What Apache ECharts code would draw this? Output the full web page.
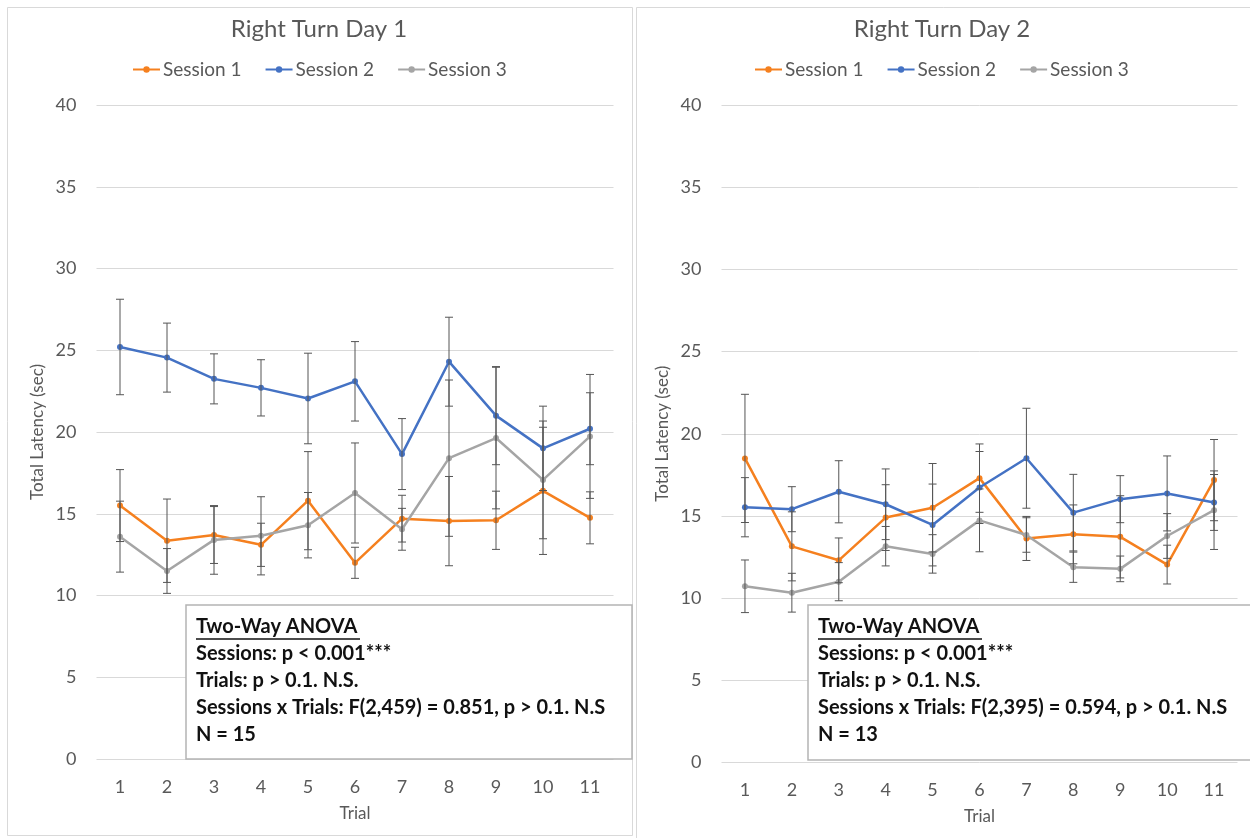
<!DOCTYPE html>
<html>
<head>
<meta charset="utf-8">
<script src="https://cdn.jsdelivr.net/npm/echarts@6/dist/echarts.min.js"></script>
<style>
html, body { margin: 0; padding: 0; background: #fff; }
#main { width: 1250px; height: 838px; }
</style>
</head>
<body>
<div id="main"></div>
<script>
// trial numbers on the x axis
const trials = ['1', '2', '3', '4', '5', '6', '7', '8', '9', '10', '11'];
const yTicks = [0, 5, 10, 15, 20, 25, 30, 35, 40];

// Right Turn Day 1 (mean, error)
const day1Session1 = [15.5, 13.35, 13.7, 13.1, 15.8, 12.0, 14.7, 14.55, 14.6, 16.4, 14.75];
const day1Session1Err = [2.2, 2.55, 1.74, 1.32, 3.0, 0.95, 1.43, 2.73, 1.78, 3.89, 1.59];
const day1Session2 = [25.2, 24.55, 23.25, 22.7, 22.05, 23.1, 18.65, 24.3, 21.0, 19.0, 20.2];
const day1Session2Err = [2.92, 2.11, 1.53, 1.72, 2.77, 2.43, 2.17, 2.72, 3.0, 2.58, 2.2];
const day1Session3 = [13.6, 11.5, 13.4, 13.65, 14.3, 16.27, 14.05, 18.4, 19.63, 17.07, 19.73];
const day1Session3Err = [2.17, 1.37, 2.1, 2.39, 2.0, 3.06, 1.28, 4.78, 4.33, 3.6, 3.79];

// Right Turn Day 2 (mean, error)
const day2Session1 = [18.5, 13.15, 12.3, 14.9, 15.5, 17.3, 13.63, 13.88, 13.73, 12.04, 17.18];
const day2Session1Err = [3.9, 2.1, 1.36, 2.0, 2.69, 2.08, 1.34, 1.79, 2.5, 1.18, 2.47];
const day2Session2 = [15.53, 15.41, 16.47, 15.71, 14.45, 16.73, 18.51, 15.2, 16.02, 16.37, 15.82];
const day2Session2Err = [1.8, 1.37, 1.89, 2.15, 2.49, 2.19, 3.04, 2.33, 1.43, 2.28, 1.7];
const day2Session3 = [10.72, 10.33, 11.0, 13.16, 12.69, 14.73, 13.84, 11.88, 11.78, 13.78, 15.35];
const day2Session3Err = [1.6, 1.18, 1.16, 1.2, 1.17, 1.91, 1.05, 0.92, 0.78, 1.36, 2.39];

const statsDay1 = ['Two-Way ANOVA', 'Sessions: p < 0.001***', 'Trials: p > 0.1. N.S.',
  'Sessions x Trials: F(2,459) = 0.851, p > 0.1. N.S', 'N = 15'];
const statsDay2 = ['Two-Way ANOVA', 'Sessions: p < 0.001***', 'Trials: p > 0.1. N.S.',
  'Sessions x Trials: F(2,395) = 0.594, p > 0.1. N.S', 'N = 13'];

const names = ['Session 1', 'Session 2', 'Session 3'];
const colors = ['#f5801f', '#4472c4', '#a5a5a5'];
const FONT = 'Lato';
const TXT = '#595959';

function errData (mean, err) {
  return mean.map((v, i) => [i, v - err[i], v + err[i]]);
}

function renderErr (params, api) {
  const x = api.value(0);
  const lo = api.coord([x, api.value(1)]);
  const hi = api.coord([x, api.value(2)]);
  const w = 4;
  const st = { stroke: '#555', lineWidth: 1 };
  return {
    type: 'group',
    children: [
      { type: 'line', shape: { x1: hi[0], y1: hi[1], x2: lo[0], y2: lo[1] }, style: st },
      { type: 'line', shape: { x1: hi[0] - w, y1: hi[1], x2: hi[0] + w, y2: hi[1] }, style: st },
      { type: 'line', shape: { x1: lo[0] - w, y1: lo[1], x2: lo[0] + w, y2: lo[1] }, style: st }
    ]
  };
}

function lineSeries (idx, data) {
  return {
    name: names[idx % 3],
    type: 'line',
    xAxisIndex: Math.floor(idx / 3),
    yAxisIndex: Math.floor(idx / 3),
    data: data,
    symbol: 'circle',
    symbolSize: 6,
    color: colors[idx % 3],
    lineStyle: { width: 2.5, color: colors[idx % 3] },
    itemStyle: { color: colors[idx % 3] },
    z: 3
  };
}

function errSeries (idx, mean, err) {
  return {
    name: 'err' + idx,
    type: 'custom',
    xAxisIndex: Math.floor(idx / 3),
    yAxisIndex: Math.floor(idx / 3),
    renderItem: renderErr,
    data: errData(mean, err),
    encode: { x: 0, y: [1, 2] },
    silent: true,
    z: 4
  };
}

function xAxis (gridIndex) {
  return {
    type: 'category',
    gridIndex: gridIndex,
    data: trials,
    boundaryGap: true,
    axisLine: { show: false },
    axisTick: { show: false },
    axisLabel: { color: TXT, fontSize: 18, fontFamily: FONT, margin: 19 },
    name: 'Trial',
    nameLocation: 'middle',
    nameGap: 46,
    nameTextStyle: { color: TXT, fontSize: 17, fontFamily: FONT }
  };
}

function yAxis (gridIndex) {
  return {
    type: 'value',
    gridIndex: gridIndex,
    min: yTicks[0],
    max: yTicks[yTicks.length - 1],
    interval: yTicks[1] - yTicks[0],
    axisLine: { show: false },
    axisTick: { show: false },
    axisLabel: { color: TXT, fontSize: 18, fontFamily: FONT, margin: 20 },
    splitLine: { lineStyle: { color: '#d9d9d9', width: 1 } },
    name: 'Total Latency (sec)',
    nameLocation: 'middle',
    nameGap: 50,
    nameTextStyle: { color: TXT, fontSize: 17, fontFamily: FONT }
  };
}

function statsBox (x, y, w, h, lines) {
  const children = [{
    type: 'rect',
    z: 100,
    shape: { x: 0, y: 0, width: w, height: h },
    style: { fill: '#fff', stroke: '#b4b4b4', lineWidth: 1.5 }
  }];
  lines.forEach((t, i) => {
    children.push({
      type: 'text',
      z: 101,
      x: 10, y: 22 + i * 27,
      style: { text: t, fill: '#111', font: 'bold 20px ' + FONT, textVerticalAlign: 'middle' }
    });
  });
  // underline for the heading
  children.push({
    type: 'line',
    z: 101,
    shape: { x1: 10, y1: 34, x2: 10 + 164, y2: 34 },
    style: { stroke: '#111', lineWidth: 1.4 }
  });
  return { type: 'group', x: x, y: y, z: 100, children: children };
}

const chart = echarts.init(document.getElementById('main'));
chart.setOption({
  animation: false,
  backgroundColor: '#fff',
  title: [
    { text: 'Right Turn Day 1', left: 319, top: 17, textAlign: 'center', padding: 0,
      textStyle: { color: TXT, fontSize: 24, fontWeight: 'normal', fontFamily: FONT } },
    { text: 'Right Turn Day 2', left: 942, top: 17, textAlign: 'center', padding: 0,
      textStyle: { color: TXT, fontSize: 24, fontWeight: 'normal', fontFamily: FONT } }
  ],
  legend: [
    { data: names, left: 132, top: 60, padding: 0, itemWidth: 27, itemHeight: 8, itemGap: 23,
      textStyle: { color: TXT, fontSize: 19, fontFamily: FONT, padding: [0, 0, 0, -2] } },
    { data: names, left: 754, top: 60, padding: 0, itemWidth: 27, itemHeight: 8, itemGap: 23,
      textStyle: { color: TXT, fontSize: 19, fontFamily: FONT, padding: [0, 0, 0, -2] } }
  ],
  grid: [
    { left: 96.5, top: 105, width: 517, height: 654 },
    { left: 721.5, top: 105, width: 516, height: 657.5 }
  ],
  xAxis: [xAxis(0), xAxis(1)],
  yAxis: [yAxis(0), yAxis(1)],
  graphic: [
    { type: 'rect', shape: { x: 7.5, y: 7.5, width: 625, height: 828 },
      style: { fill: 'none', stroke: '#d9d9d9', lineWidth: 1 }, z: -1 },
    { type: 'rect', shape: { x: 636.5, y: 7.5, width: 640, height: 840 },
      style: { fill: 'none', stroke: '#d9d9d9', lineWidth: 1 }, z: -1 },
    statsBox(186, 605, 446, 154, statsDay1),
    statsBox(808, 605, 460, 155, statsDay2)
  ],
  series: [
    lineSeries(0, day1Session1), lineSeries(1, day1Session2), lineSeries(2, day1Session3),
    lineSeries(3, day2Session1), lineSeries(4, day2Session2), lineSeries(5, day2Session3),
    errSeries(0, day1Session1, day1Session1Err), errSeries(1, day1Session2, day1Session2Err),
    errSeries(2, day1Session3, day1Session3Err), errSeries(3, day2Session1, day2Session1Err),
    errSeries(4, day2Session2, day2Session2Err), errSeries(5, day2Session3, day2Session3Err)
  ]
});
</script>
</body>
</html>
